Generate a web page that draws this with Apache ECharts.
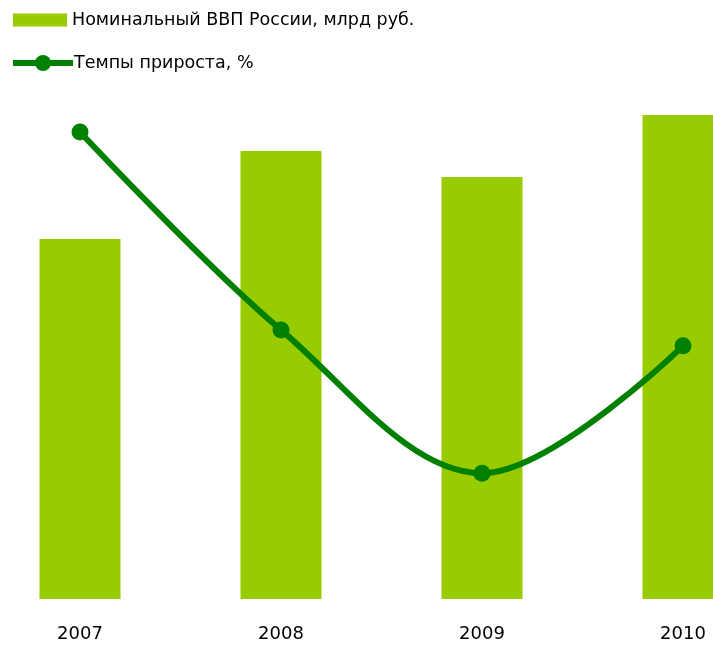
<!DOCTYPE html>
<html>
<head>
<meta charset="utf-8">
<script src="https://cdn.jsdelivr.net/npm/echarts@6/dist/echarts.min.js"></script>
<style>
html,body{margin:0;padding:0;background:#fff;}
#chart{width:713px;height:646px;}
</style>
</head>
<body>
<div id="chart"></div>
<script>
// данные графика
let years = ['2007', '2008', '2009', '2010'];
let gdpValues = [33430, 41600, 39180, 44939]; // млрд руб.
let growthValues = [9.65, 5.56, 2.60, 5.23];
let gdpName = 'Номинальный ВВП России, млрд руб.';
let growthName = 'Темпы прироста, %';

let legendText = {
    fontFamily: 'DejaVu Sans',
    fontSize: 17.5,
    color: '#000'
};

let myChart = echarts.init(document.getElementById('chart'));
option = {
    animation: false,
    legend: [
        {
            left: 13,
            top: 11,
            padding: 0,
            itemWidth: 54,
            itemHeight: 13,
            textStyle: legendText,
            data: [{name: gdpName, icon: 'rect'}]
        },
        {
            left: 10,
            top: 54,
            padding: 0,
            itemWidth: 60,
            itemHeight: 20,
            textStyle: Object.assign({padding: [0, 0, 0, -4]}, legendText),
            lineStyle: {width: 6},
            data: [{name: growthName}]
        }
    ],
    grid: {
        left: 80,
        right: 30,
        top: 115,
        bottom: 47,
        containLabel: false
    },
    xAxis: {
        type: 'category',
        data: years,
        boundaryGap: false,
        axisLine: {show: false},
        axisTick: {show: false},
        axisLabel: {
            fontFamily: 'DejaVu Sans',
            fontSize: 18,
            color: '#000',
            margin: 26
        }
    },
    yAxis: [
        {type: 'value', min: 0, max: 44939, show: false, splitLine: {show: false}},
        {type: 'value', min: 0, max: 10, show: false, splitLine: {show: false}}
    ],
    series: [
        {
            name: gdpName,
            type: 'bar',
            data: gdpValues,
            barWidth: 81,
            itemStyle: {color: '#99cc00'}
        },
        {
            name: growthName,
            type: 'line',
            yAxisIndex: 1,
            data: growthValues,
            smooth: 0.35,
            symbol: 'circle',
            symbolSize: 17,
            lineStyle: {color: '#008000', width: 6},
            itemStyle: {color: '#008000'}
        }
    ]
};
myChart.setOption(option);
</script>
</body>
</html>
